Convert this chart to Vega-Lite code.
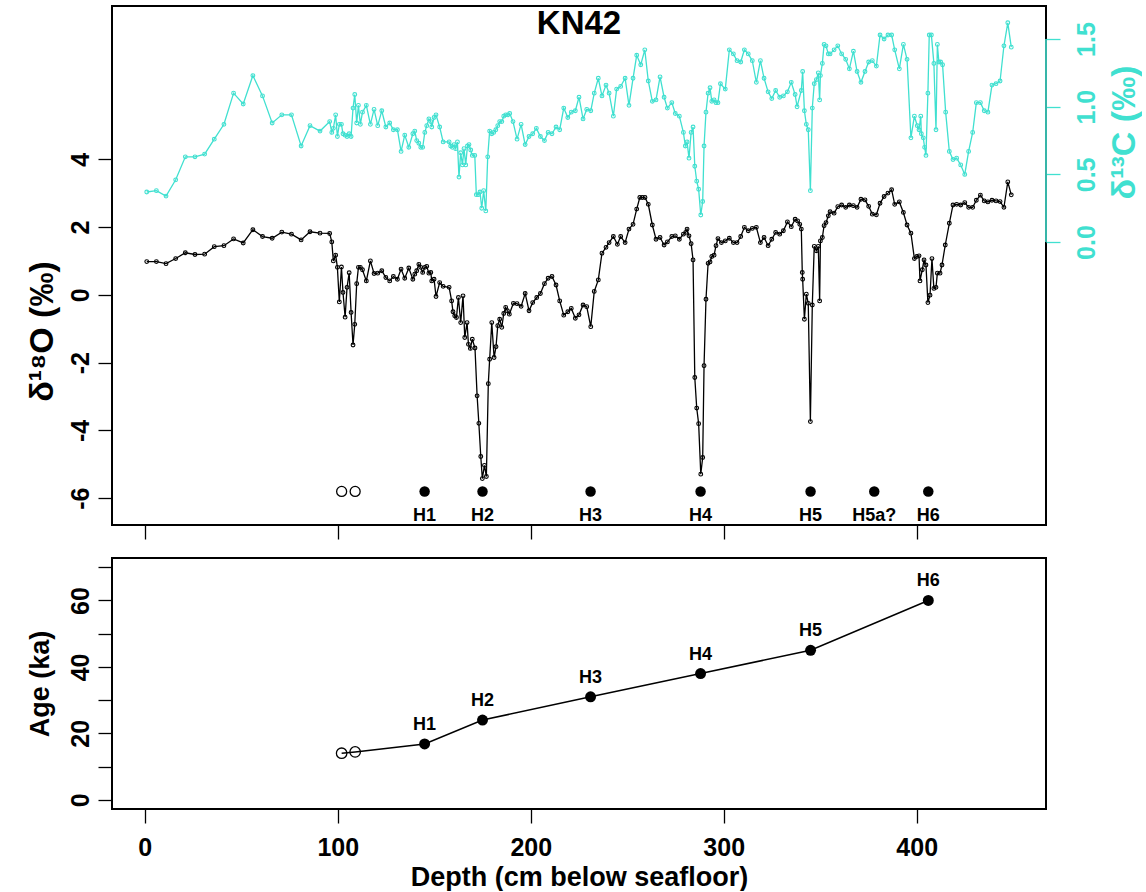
{
  "$schema": "https://vega.github.io/schema/vega-lite/v6.json",
  "background": "white",
  "padding": {"left": 24, "top": 5, "right": 0, "bottom": 0},
  "config": {
    "font": "Liberation Sans",
    "view": {"stroke": "black", "strokeWidth": 2},
    "axis": {
      "grid": false, "domain": false, "tickSize": 14, "tickWidth": 1.3, "tickColor": "black",
      "labelFont": "Liberation Sans", "labelFontWeight": "bold", "labelFontSize": 25, "labelColor": "black",
      "titleFont": "Liberation Sans", "titleFontWeight": "bold", "titleFontSize": 27, "titleColor": "black",
      "labelOverlap": false, "labelFlush": false
    }
  },
  "datasets": {
    "o18": [
      {"depth": 1, "value": 0.98}, {"depth": 6, "value": 0.98}, {"depth": 11, "value": 0.92}, {"depth": 16, "value": 1.07},
      {"depth": 21, "value": 1.24}, {"depth": 26, "value": 1.19}, {"depth": 31, "value": 1.2}, {"depth": 36, "value": 1.42},
      {"depth": 41, "value": 1.45}, {"depth": 46, "value": 1.65}, {"depth": 51, "value": 1.53}, {"depth": 56, "value": 1.92},
      {"depth": 61, "value": 1.72}, {"depth": 66, "value": 1.67}, {"depth": 71, "value": 1.85}, {"depth": 76, "value": 1.79},
      {"depth": 81, "value": 1.62}, {"depth": 85.6, "value": 1.86}, {"depth": 90.8, "value": 1.82}, {"depth": 95.8, "value": 1.81},
      {"depth": 96.9, "value": 1.56}, {"depth": 97.7, "value": 1.0}, {"depth": 98.9, "value": 1.17}, {"depth": 99.8, "value": 0.81},
      {"depth": 100.8, "value": -0.21}, {"depth": 101.9, "value": 0.82}, {"depth": 102.7, "value": 0.07}, {"depth": 103.8, "value": -0.66},
      {"depth": 104.8, "value": 0.22}, {"depth": 105.9, "value": 0.65}, {"depth": 106.9, "value": -0.52}, {"depth": 107.9, "value": -1.48},
      {"depth": 108.8, "value": -0.87}, {"depth": 109.8, "value": 0.33}, {"depth": 110.7, "value": 0.81}, {"depth": 111.7, "value": 0.81},
      {"depth": 112.8, "value": 0.74}, {"depth": 114.8, "value": 0.41}, {"depth": 116.9, "value": 1.0}, {"depth": 118.8, "value": 0.63},
      {"depth": 120.7, "value": 0.64}, {"depth": 122.8, "value": 0.71}, {"depth": 124.9, "value": 0.51}, {"depth": 126.9, "value": 0.41},
      {"depth": 128.8, "value": 0.54}, {"depth": 130.9, "value": 0.46}, {"depth": 132.8, "value": 0.76}, {"depth": 134.7, "value": 0.49},
      {"depth": 136.8, "value": 0.79}, {"depth": 138.9, "value": 0.46}, {"depth": 139.9, "value": 0.61}, {"depth": 140.9, "value": 0.71},
      {"depth": 142.0, "value": 0.9}, {"depth": 143.0, "value": 0.81}, {"depth": 144.0, "value": 0.66}, {"depth": 145.1, "value": 0.81},
      {"depth": 146.1, "value": 0.84}, {"depth": 147.2, "value": 0.64}, {"depth": 148.2, "value": 0.66}, {"depth": 148.7, "value": 0.41},
      {"depth": 149.9, "value": 0.46}, {"depth": 150.9, "value": -0.05}, {"depth": 152.8, "value": 0.36}, {"depth": 154.6, "value": 0.25},
      {"depth": 157.7, "value": 0.22}, {"depth": 159.0, "value": -0.18}, {"depth": 159.7, "value": -0.5}, {"depth": 160.6, "value": -0.62},
      {"depth": 161.5, "value": -0.67}, {"depth": 162.5, "value": -0.08}, {"depth": 163.7, "value": -0.82}, {"depth": 164.9, "value": -0.03},
      {"depth": 165.8, "value": -1.26}, {"depth": 167.0, "value": -0.82}, {"depth": 167.7, "value": -1.46}, {"depth": 168.7, "value": -1.58},
      {"depth": 169.7, "value": -1.31}, {"depth": 171.1, "value": -1.57}, {"depth": 172.2, "value": -2.98}, {"depth": 173.1, "value": -3.79},
      {"depth": 174.1, "value": -4.77}, {"depth": 174.9, "value": -5.42}, {"depth": 176.0, "value": -5.03}, {"depth": 177.0, "value": -5.36},
      {"depth": 178.0, "value": -2.62}, {"depth": 178.7, "value": -1.9}, {"depth": 179.8, "value": -0.82}, {"depth": 181.0, "value": -1.85},
      {"depth": 182.0, "value": -1.53}, {"depth": 182.9, "value": -0.91}, {"depth": 183.9, "value": -0.72}, {"depth": 185.0, "value": -0.96},
      {"depth": 186.0, "value": -0.55}, {"depth": 187.0, "value": -0.37}, {"depth": 187.9, "value": -0.47}, {"depth": 188.9, "value": -0.57},
      {"depth": 191.0, "value": -0.25}, {"depth": 192.9, "value": -0.26}, {"depth": 195.0, "value": -0.34}, {"depth": 197.1, "value": 0.04},
      {"depth": 199.1, "value": -0.47}, {"depth": 201.0, "value": -0.23}, {"depth": 203.1, "value": -0.08}, {"depth": 205.0, "value": 0.04},
      {"depth": 207.1, "value": 0.33}, {"depth": 209.0, "value": 0.49}, {"depth": 211.0, "value": 0.54}, {"depth": 213.1, "value": 0.29},
      {"depth": 215.0, "value": -0.18}, {"depth": 217.1, "value": -0.6}, {"depth": 219.2, "value": -0.5}, {"depth": 221.0, "value": -0.4},
      {"depth": 223.1, "value": -0.69}, {"depth": 225.0, "value": -0.59}, {"depth": 227.1, "value": -0.3}, {"depth": 229.0, "value": -0.35},
      {"depth": 231.1, "value": -0.94}, {"depth": 232.9, "value": 0.1}, {"depth": 235.0, "value": 0.44}, {"depth": 236.9, "value": 1.23},
      {"depth": 239.0, "value": 1.4}, {"depth": 240.6, "value": 1.54}, {"depth": 242.8, "value": 1.72}, {"depth": 244.9, "value": 1.49},
      {"depth": 246.6, "value": 1.72}, {"depth": 248.9, "value": 1.54}, {"depth": 250.9, "value": 1.94}, {"depth": 253.0, "value": 2.08},
      {"depth": 254.9, "value": 2.53}, {"depth": 256.5, "value": 2.87}, {"depth": 257.8, "value": 2.87}, {"depth": 259.2, "value": 2.87},
      {"depth": 260.9, "value": 2.67}, {"depth": 263.0, "value": 2.06}, {"depth": 264.9, "value": 1.64}, {"depth": 267.0, "value": 1.69},
      {"depth": 269.1, "value": 1.47}, {"depth": 270.8, "value": 1.56}, {"depth": 273.1, "value": 1.72}, {"depth": 274.9, "value": 1.74},
      {"depth": 277.0, "value": 1.64}, {"depth": 279.1, "value": 1.79}, {"depth": 280.3, "value": 1.84}, {"depth": 281.0, "value": 1.94},
      {"depth": 282.0, "value": 1.74}, {"depth": 283.1, "value": 1.51}, {"depth": 284.1, "value": 1.03}, {"depth": 285.0, "value": -2.44},
      {"depth": 286.0, "value": -3.34}, {"depth": 287.0, "value": -3.8}, {"depth": 288.1, "value": -5.29}, {"depth": 289.1, "value": -4.8},
      {"depth": 289.8, "value": -2.09}, {"depth": 290.8, "value": -0.13}, {"depth": 291.9, "value": 0.93}, {"depth": 292.9, "value": 0.97},
      {"depth": 293.8, "value": 1.13}, {"depth": 295.0, "value": 1.17}, {"depth": 296.0, "value": 1.45}, {"depth": 297.0, "value": 1.66},
      {"depth": 298.8, "value": 1.54}, {"depth": 300.8, "value": 1.59}, {"depth": 302.9, "value": 1.67}, {"depth": 305.0, "value": 1.54},
      {"depth": 306.9, "value": 1.54}, {"depth": 308.8, "value": 1.72}, {"depth": 310.7, "value": 1.99}, {"depth": 312.7, "value": 1.89},
      {"depth": 314.8, "value": 1.96}, {"depth": 316.9, "value": 1.99}, {"depth": 319.0, "value": 1.54}, {"depth": 320.9, "value": 1.69},
      {"depth": 323.0, "value": 1.45}, {"depth": 324.9, "value": 1.64}, {"depth": 326.9, "value": 1.84}, {"depth": 329.0, "value": 1.79},
      {"depth": 330.9, "value": 1.89}, {"depth": 333.0, "value": 2.15}, {"depth": 335.0, "value": 2.01}, {"depth": 337.0, "value": 2.23},
      {"depth": 338.3, "value": 2.18}, {"depth": 339.4, "value": 2.08}, {"depth": 340.2, "value": 1.94}, {"depth": 340.7, "value": 0.66},
      {"depth": 340.9, "value": 0.46}, {"depth": 341.8, "value": -0.72}, {"depth": 342.8, "value": 0.02}, {"depth": 343.8, "value": -0.25},
      {"depth": 344.9, "value": -3.74}, {"depth": 345.9, "value": -0.3}, {"depth": 346.9, "value": 1.43}, {"depth": 348.0, "value": 1.3},
      {"depth": 349.0, "value": 1.43}, {"depth": 349.7, "value": -0.18}, {"depth": 350.1, "value": 1.59}, {"depth": 351.1, "value": 1.69},
      {"depth": 352.0, "value": 2.04}, {"depth": 353.0, "value": 2.13}, {"depth": 354.2, "value": 2.33}, {"depth": 355.1, "value": 2.45},
      {"depth": 357.2, "value": 2.41}, {"depth": 359.1, "value": 2.6}, {"depth": 361.1, "value": 2.65}, {"depth": 363.2, "value": 2.58},
      {"depth": 365.1, "value": 2.65}, {"depth": 367.2, "value": 2.63}, {"depth": 369.1, "value": 2.58}, {"depth": 371.1, "value": 2.82},
      {"depth": 373.2, "value": 2.8}, {"depth": 375.1, "value": 2.61}, {"depth": 377.0, "value": 2.38}, {"depth": 379.1, "value": 2.36},
      {"depth": 381.0, "value": 2.7}, {"depth": 383.1, "value": 2.9}, {"depth": 385.1, "value": 3.0}, {"depth": 387.0, "value": 3.1},
      {"depth": 388.6, "value": 2.67}, {"depth": 391.0, "value": 2.74}, {"depth": 393.1, "value": 2.43}, {"depth": 395.0, "value": 2.06},
      {"depth": 397.0, "value": 1.82}, {"depth": 398.8, "value": 1.07}, {"depth": 400.0, "value": 1.13}, {"depth": 401.2, "value": 1.15},
      {"depth": 401.7, "value": 0.41}, {"depth": 402.9, "value": 0.74}, {"depth": 403.8, "value": 1.03}, {"depth": 404.8, "value": 0.88},
      {"depth": 405.8, "value": -0.23}, {"depth": 406.9, "value": -0.01}, {"depth": 407.9, "value": 1.07}, {"depth": 408.9, "value": 0.19},
      {"depth": 410.0, "value": 0.22}, {"depth": 410.7, "value": 0.64}, {"depth": 412.1, "value": 0.64}, {"depth": 413.1, "value": 0.88},
      {"depth": 414.8, "value": 1.47}, {"depth": 416.9, "value": 2.11}, {"depth": 418.8, "value": 2.65}, {"depth": 420.7, "value": 2.67},
      {"depth": 422.8, "value": 2.65}, {"depth": 424.9, "value": 2.72}, {"depth": 426.9, "value": 2.58}, {"depth": 429.0, "value": 2.58},
      {"depth": 430.9, "value": 2.79}, {"depth": 433.0, "value": 2.94}, {"depth": 435.0, "value": 2.77}, {"depth": 436.9, "value": 2.74},
      {"depth": 439.0, "value": 2.79}, {"depth": 441.1, "value": 2.77}, {"depth": 443.2, "value": 2.75}, {"depth": 445.2, "value": 2.58},
      {"depth": 447.2, "value": 3.33}, {"depth": 449.0, "value": 2.95}
    ],
    "c13": [
      {"depth": 1, "value": 0.37}, {"depth": 6, "value": 0.38}, {"depth": 11, "value": 0.34}, {"depth": 16, "value": 0.46},
      {"depth": 21, "value": 0.63}, {"depth": 26, "value": 0.63}, {"depth": 31, "value": 0.65}, {"depth": 36, "value": 0.76},
      {"depth": 41, "value": 0.87}, {"depth": 46, "value": 1.1}, {"depth": 51, "value": 1.02}, {"depth": 56, "value": 1.23},
      {"depth": 61, "value": 1.08}, {"depth": 66, "value": 0.88}, {"depth": 71, "value": 0.94}, {"depth": 76, "value": 0.94},
      {"depth": 81, "value": 0.71}, {"depth": 85.6, "value": 0.86}, {"depth": 90.8, "value": 0.82}, {"depth": 95.8, "value": 0.89},
      {"depth": 96.9, "value": 0.81}, {"depth": 97.7, "value": 0.84}, {"depth": 98.9, "value": 0.94}, {"depth": 99.8, "value": 0.78},
      {"depth": 100.8, "value": 0.87}, {"depth": 101.9, "value": 0.87}, {"depth": 102.7, "value": 0.8}, {"depth": 103.8, "value": 0.79},
      {"depth": 104.8, "value": 0.78}, {"depth": 105.9, "value": 0.8}, {"depth": 106.9, "value": 0.78}, {"depth": 107.9, "value": 0.99},
      {"depth": 108.8, "value": 1.09}, {"depth": 109.8, "value": 0.88}, {"depth": 110.7, "value": 1.01}, {"depth": 111.7, "value": 0.87},
      {"depth": 112.8, "value": 0.96}, {"depth": 114.8, "value": 1.01}, {"depth": 116.9, "value": 0.87}, {"depth": 118.8, "value": 0.98},
      {"depth": 120.7, "value": 0.86}, {"depth": 122.8, "value": 0.97}, {"depth": 124.9, "value": 0.85}, {"depth": 126.9, "value": 0.88},
      {"depth": 128.8, "value": 0.83}, {"depth": 130.9, "value": 0.83}, {"depth": 132.8, "value": 0.67}, {"depth": 134.7, "value": 0.79},
      {"depth": 136.8, "value": 0.7}, {"depth": 138.9, "value": 0.8}, {"depth": 139.9, "value": 0.82}, {"depth": 140.9, "value": 0.75},
      {"depth": 142.0, "value": 0.73}, {"depth": 143.0, "value": 0.7}, {"depth": 144.0, "value": 0.7}, {"depth": 145.1, "value": 0.81},
      {"depth": 146.1, "value": 0.86}, {"depth": 147.2, "value": 0.91}, {"depth": 148.2, "value": 0.89}, {"depth": 148.7, "value": 0.85},
      {"depth": 149.9, "value": 0.92}, {"depth": 150.9, "value": 0.94}, {"depth": 152.8, "value": 0.85}, {"depth": 154.6, "value": 0.74},
      {"depth": 157.7, "value": 0.74}, {"depth": 158.5, "value": 0.71}, {"depth": 159.4, "value": 0.7}, {"depth": 160.3, "value": 0.72},
      {"depth": 161.1, "value": 0.69}, {"depth": 162.0, "value": 0.74}, {"depth": 162.8, "value": 0.48}, {"depth": 163.7, "value": 0.66},
      {"depth": 164.6, "value": 0.57}, {"depth": 165.4, "value": 0.69}, {"depth": 166.3, "value": 0.57}, {"depth": 167.2, "value": 0.71},
      {"depth": 168.0, "value": 0.72}, {"depth": 168.9, "value": 0.68}, {"depth": 169.7, "value": 0.64}, {"depth": 171.0, "value": 0.64},
      {"depth": 171.8, "value": 0.35}, {"depth": 172.8, "value": 0.35}, {"depth": 173.7, "value": 0.37}, {"depth": 174.6, "value": 0.25},
      {"depth": 175.6, "value": 0.38}, {"depth": 176.7, "value": 0.23}, {"depth": 177.7, "value": 0.63}, {"depth": 178.7, "value": 0.82},
      {"depth": 179.8, "value": 0.8}, {"depth": 180.8, "value": 0.81}, {"depth": 181.9, "value": 0.83}, {"depth": 182.9, "value": 0.86},
      {"depth": 183.9, "value": 0.89}, {"depth": 185.0, "value": 0.89}, {"depth": 186.0, "value": 0.93}, {"depth": 187.0, "value": 0.94},
      {"depth": 188.1, "value": 0.94}, {"depth": 189.1, "value": 0.95}, {"depth": 190.8, "value": 0.89}, {"depth": 192.9, "value": 0.76},
      {"depth": 195.0, "value": 0.87}, {"depth": 197.1, "value": 0.72}, {"depth": 199.1, "value": 0.78}, {"depth": 201.0, "value": 0.8},
      {"depth": 202.9, "value": 0.84}, {"depth": 205.0, "value": 0.78}, {"depth": 207.1, "value": 0.75}, {"depth": 209.0, "value": 0.81},
      {"depth": 211.0, "value": 0.8}, {"depth": 213.1, "value": 0.85}, {"depth": 215.0, "value": 0.83}, {"depth": 217.1, "value": 0.99},
      {"depth": 219.2, "value": 0.92}, {"depth": 221.0, "value": 0.96}, {"depth": 223.1, "value": 0.97}, {"depth": 225.0, "value": 1.07},
      {"depth": 227.1, "value": 0.91}, {"depth": 229.0, "value": 0.98}, {"depth": 231.1, "value": 0.97}, {"depth": 232.9, "value": 1.1},
      {"depth": 235.0, "value": 1.21}, {"depth": 236.9, "value": 1.08}, {"depth": 239.0, "value": 1.16}, {"depth": 240.6, "value": 1.1},
      {"depth": 242.8, "value": 0.93}, {"depth": 244.5, "value": 1.13}, {"depth": 246.6, "value": 1.15}, {"depth": 248.9, "value": 1.21},
      {"depth": 250.9, "value": 1.01}, {"depth": 253.0, "value": 1.21}, {"depth": 254.9, "value": 1.38}, {"depth": 257.0, "value": 1.31},
      {"depth": 259.1, "value": 1.42}, {"depth": 260.9, "value": 1.19}, {"depth": 263.0, "value": 1.04}, {"depth": 264.9, "value": 1.05},
      {"depth": 267.0, "value": 1.22}, {"depth": 269.1, "value": 1.07}, {"depth": 270.8, "value": 0.99}, {"depth": 273.1, "value": 1.03},
      {"depth": 274.9, "value": 0.95}, {"depth": 277.0, "value": 0.93}, {"depth": 279.1, "value": 0.81}, {"depth": 280.1, "value": 0.71},
      {"depth": 281.0, "value": 0.74}, {"depth": 282.0, "value": 0.62}, {"depth": 283.1, "value": 0.81}, {"depth": 284.1, "value": 0.85},
      {"depth": 285.0, "value": 0.56}, {"depth": 286.0, "value": 0.45}, {"depth": 287.0, "value": 0.39}, {"depth": 288.1, "value": 0.2},
      {"depth": 289.1, "value": 0.3}, {"depth": 289.8, "value": 0.71}, {"depth": 290.8, "value": 0.96}, {"depth": 291.9, "value": 1.1},
      {"depth": 292.9, "value": 1.14}, {"depth": 293.8, "value": 1.04}, {"depth": 295.0, "value": 1.05}, {"depth": 296.0, "value": 1.03},
      {"depth": 297.0, "value": 1.03}, {"depth": 298.3, "value": 1.17}, {"depth": 300.8, "value": 1.13}, {"depth": 302.9, "value": 1.42},
      {"depth": 305.0, "value": 1.39}, {"depth": 306.9, "value": 1.34}, {"depth": 308.8, "value": 1.33}, {"depth": 310.7, "value": 1.42},
      {"depth": 312.7, "value": 1.39}, {"depth": 314.8, "value": 1.34}, {"depth": 316.9, "value": 1.18}, {"depth": 319.0, "value": 1.34},
      {"depth": 320.9, "value": 1.21}, {"depth": 323.0, "value": 1.11}, {"depth": 324.9, "value": 1.06}, {"depth": 326.9, "value": 1.12},
      {"depth": 329.0, "value": 1.07}, {"depth": 330.9, "value": 1.08}, {"depth": 333.0, "value": 1.11}, {"depth": 335.0, "value": 1.18},
      {"depth": 337.0, "value": 1.09}, {"depth": 338.0, "value": 1.0}, {"depth": 340.2, "value": 1.12}, {"depth": 340.9, "value": 1.26},
      {"depth": 341.8, "value": 0.97}, {"depth": 342.8, "value": 0.87}, {"depth": 343.8, "value": 0.83}, {"depth": 344.9, "value": 0.38},
      {"depth": 345.9, "value": 0.99}, {"depth": 346.9, "value": 1.17}, {"depth": 348.0, "value": 1.2}, {"depth": 349.0, "value": 1.25},
      {"depth": 349.7, "value": 1.05}, {"depth": 350.1, "value": 1.23}, {"depth": 351.1, "value": 1.32}, {"depth": 352.0, "value": 1.46},
      {"depth": 353.0, "value": 1.45}, {"depth": 354.2, "value": 1.39}, {"depth": 355.1, "value": 1.39}, {"depth": 357.2, "value": 1.42},
      {"depth": 359.1, "value": 1.45}, {"depth": 361.1, "value": 1.39}, {"depth": 363.2, "value": 1.35}, {"depth": 365.1, "value": 1.28},
      {"depth": 367.2, "value": 1.41}, {"depth": 369.1, "value": 1.26}, {"depth": 371.1, "value": 1.18}, {"depth": 373.2, "value": 1.26},
      {"depth": 375.1, "value": 1.33}, {"depth": 377.0, "value": 1.34}, {"depth": 379.1, "value": 1.3}, {"depth": 381.0, "value": 1.53},
      {"depth": 383.1, "value": 1.5}, {"depth": 385.1, "value": 1.53}, {"depth": 387.0, "value": 1.53}, {"depth": 388.6, "value": 1.42},
      {"depth": 391.0, "value": 1.28}, {"depth": 393.1, "value": 1.46}, {"depth": 395.0, "value": 1.35}, {"depth": 397.0, "value": 0.77},
      {"depth": 398.8, "value": 0.93}, {"depth": 400.3, "value": 0.86}, {"depth": 401.2, "value": 0.83}, {"depth": 402.1, "value": 0.93},
      {"depth": 402.4, "value": 0.8}, {"depth": 403.4, "value": 0.77}, {"depth": 404.1, "value": 0.7}, {"depth": 404.8, "value": 0.64},
      {"depth": 405.8, "value": 1.1}, {"depth": 406.5, "value": 1.53}, {"depth": 407.6, "value": 1.53}, {"depth": 408.9, "value": 1.32},
      {"depth": 410.0, "value": 0.83}, {"depth": 410.7, "value": 1.46}, {"depth": 411.5, "value": 1.33}, {"depth": 412.4, "value": 1.33},
      {"depth": 413.4, "value": 1.31}, {"depth": 415.0, "value": 0.96}, {"depth": 416.9, "value": 0.67}, {"depth": 418.8, "value": 0.61},
      {"depth": 420.7, "value": 0.62}, {"depth": 422.8, "value": 0.57}, {"depth": 424.9, "value": 0.5}, {"depth": 426.9, "value": 0.67},
      {"depth": 429.0, "value": 0.81}, {"depth": 430.9, "value": 1.03}, {"depth": 433.0, "value": 1.03}, {"depth": 435.0, "value": 0.97},
      {"depth": 436.9, "value": 0.96}, {"depth": 439.0, "value": 1.16}, {"depth": 441.1, "value": 1.17}, {"depth": 443.2, "value": 1.19},
      {"depth": 445.2, "value": 1.45}, {"depth": 447.2, "value": 1.62}, {"depth": 449.0, "value": 1.44}
    ],
    "events": [
      {"depth": 102, "kind": "open", "label": ""},
      {"depth": 109, "kind": "open", "label": ""},
      {"depth": 145, "kind": "filled", "label": "H1"},
      {"depth": 175, "kind": "filled", "label": "H2"},
      {"depth": 231, "kind": "filled", "label": "H3"},
      {"depth": 288, "kind": "filled", "label": "H4"},
      {"depth": 345, "kind": "filled", "label": "H5"},
      {"depth": 378, "kind": "filled", "label": "H5a?"},
      {"depth": 406, "kind": "filled", "label": "H6"}
    ],
    "age": [
      {"depth": 102, "age": 14.0, "kind": "open", "label": ""},
      {"depth": 109, "age": 14.4, "kind": "open", "label": ""},
      {"depth": 145, "age": 16.8, "kind": "filled", "label": "H1"},
      {"depth": 175, "age": 24.0, "kind": "filled", "label": "H2"},
      {"depth": 231, "age": 31.0, "kind": "filled", "label": "H3"},
      {"depth": 288, "age": 38.0, "kind": "filled", "label": "H4"},
      {"depth": 345, "age": 45.0, "kind": "filled", "label": "H5"},
      {"depth": 406, "age": 60.0, "kind": "filled", "label": "H6"}
    ]
  },
  "bounds": "flush",
  "spacing": 33,
  "vconcat": [
    {
      "width": 934,
      "height": 519,
      "layer": [
        {
          "layer": [
            {
              "data": {"name": "o18"},
              "mark": {"type": "line", "color": "black", "strokeWidth": 1.3},
              "encoding": {
                "x": {"field": "depth", "type": "quantitative", "scale": {"domain": [-17, 467], "nice": false, "zero": false}, "axis": {"values": [0, 100, 200, 300, 400], "labels": false, "title": null}},
                "y": {"field": "value", "type": "quantitative", "scale": {"domain": [-6.79, 8.52], "nice": false, "zero": false},
                      "axis": {"orient": "left", "values": [-6, -4, -2, 0, 2, 4], "labelExpr": "'' + datum.value", "labelAngle": -90, "labelAlign": "center", "labelBaseline": "bottom", "labelPadding": 5, "title": "δ¹⁸O (‰)", "titleFontSize": 34, "titlePadding": 9, "titleY": 325}}
              }
            },
            {
              "data": {"name": "o18"},
              "mark": {"type": "point", "shape": "circle", "filled": false, "color": "black", "size": 14, "strokeWidth": 1.1, "opacity": 1},
              "encoding": {
                "x": {"field": "depth", "type": "quantitative"},
                "y": {"field": "value", "type": "quantitative"}
              }
            },
            {
              "data": {"name": "events"},
              "transform": [{"filter": "datum.kind == 'filled'"}],
              "mark": {"type": "point", "shape": "circle", "filled": true, "color": "black", "size": 110, "opacity": 1},
              "encoding": {
                "x": {"field": "depth", "type": "quantitative"},
                "y": {"datum": -5.8, "type": "quantitative"}
              }
            },
            {
              "data": {"name": "events"},
              "transform": [{"filter": "datum.kind == 'open'"}],
              "mark": {"type": "point", "shape": "circle", "filled": false, "color": "black", "size": 100, "strokeWidth": 1.3, "opacity": 1},
              "encoding": {
                "x": {"field": "depth", "type": "quantitative"},
                "y": {"datum": -5.8, "type": "quantitative"}
              }
            },
            {
              "data": {"name": "events"},
              "transform": [{"filter": "datum.kind == 'filled'"}],
              "mark": {"type": "text", "font": "Liberation Sans", "fontWeight": "bold", "fontSize": 18, "baseline": "middle", "align": "center", "dy": 25, "color": "black"},
              "encoding": {
                "x": {"field": "depth", "type": "quantitative"},
                "y": {"datum": -5.8, "type": "quantitative"},
                "text": {"field": "label"}
              }
            },
            {
              "data": {"values": [{"core": "KN42"}]},
              "mark": {"type": "text", "font": "Liberation Sans", "fontWeight": "bold", "fontSize": 33, "baseline": "alphabetic", "align": "center", "color": "black"},
              "encoding": {
                "x": {"datum": 225, "type": "quantitative"},
                "y": {"datum": 7.7, "type": "quantitative"},
                "text": {"field": "core"}
              }
            }
          ]
        },
        {
          "layer": [
            {
              "data": {"name": "c13"},
              "mark": {"type": "line", "color": "#40E0D0", "strokeWidth": 1.3},
              "encoding": {
                "x": {"field": "depth", "type": "quantitative"},
                "y": {"field": "value", "type": "quantitative", "scale": {"domain": [-2.09, 1.744], "nice": false, "zero": false},
                      "axis": {"orient": "right", "values": [0, 0.5, 1, 1.5], "format": ".1f", "labelAngle": -90, "labelAlign": "center", "labelBaseline": "top", "labelPadding": 14,
                               "tickColor": "#40E0D0", "labelColor": "#40E0D0", "title": "δ¹³C (‰)", "titleColor": "#40E0D0", "titleFontSize": 34, "titleAngle": -90, "titleBaseline": "top", "titleAlign": "center", "titleX": 61, "titleY": 126}}
              }
            },
            {
              "data": {"name": "c13"},
              "mark": {"type": "point", "shape": "circle", "filled": false, "color": "#40E0D0", "size": 14, "strokeWidth": 1.1, "opacity": 1},
              "encoding": {
                "x": {"field": "depth", "type": "quantitative"},
                "y": {"field": "value", "type": "quantitative"}
              }
            },
            {
              "data": {"values": [{"lo": 0, "hi": 1.5}]},
              "mark": {"type": "rule", "color": "#36b5a8", "strokeWidth": 2},
              "encoding": {
                "x": {"datum": 467, "type": "quantitative"},
                "y": {"field": "lo", "type": "quantitative"},
                "y2": {"field": "hi"}
              }
            }
          ]
        }
      ],
      "resolve": {"scale": {"y": "independent"}, "axis": {"y": "independent"}}
    },
    {
      "width": 934,
      "height": 251,
      "data": {"name": "age"},
      "encoding": {
        "x": {"field": "depth", "type": "quantitative", "scale": {"domain": [-17, 467], "nice": false, "zero": false},
              "axis": {"values": [0, 100, 200, 300, 400], "labelExpr": "'' + datum.value", "labelPadding": 12, "title": "Depth (cm below seafloor)", "titlePadding": 4}},
        "y": {"field": "age", "type": "quantitative", "scale": {"domain": [-2.8, 72.8], "nice": false, "zero": false},
              "axis": {"values": [0, 10, 20, 30, 40, 50, 60, 70], "labelExpr": "datum.value % 20 == 0 ? '' + datum.value : ''", "labelAngle": -90, "labelAlign": "center", "labelBaseline": "bottom", "labelPadding": 5, "title": "Age (ka)", "titlePadding": 14}}
      },
      "layer": [
        {"mark": {"type": "line", "color": "black", "strokeWidth": 1.5}},
        {
          "transform": [{"filter": "datum.kind == 'open'"}],
          "mark": {"type": "point", "shape": "circle", "filled": false, "color": "black", "size": 110, "strokeWidth": 1.3, "opacity": 1}
        },
        {
          "transform": [{"filter": "datum.kind == 'filled'"}],
          "mark": {"type": "point", "shape": "circle", "filled": true, "color": "black", "size": 120, "opacity": 1}
        },
        {
          "transform": [{"filter": "datum.kind == 'filled'"}],
          "mark": {"type": "text", "font": "Liberation Sans", "fontWeight": "bold", "fontSize": 18, "baseline": "middle", "align": "center", "dy": -19, "color": "black"},
          "encoding": {"text": {"field": "label"}}
        }
      ]
    }
  ]
}
